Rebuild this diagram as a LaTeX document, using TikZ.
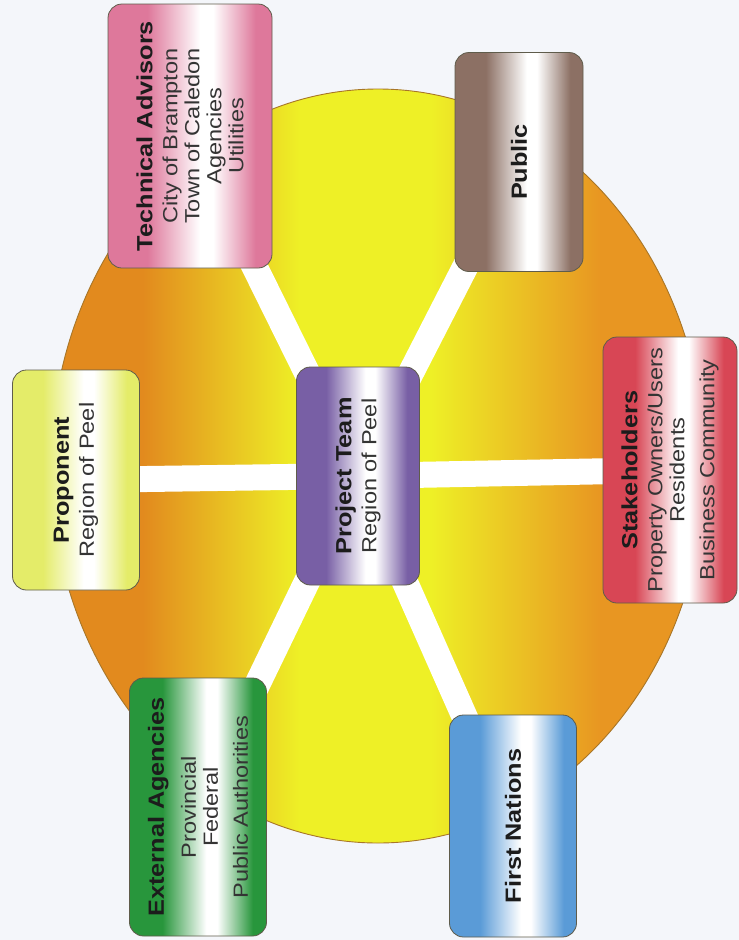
\documentclass[tikz,border=0pt]{standalone}
\usepackage{fontspec}
\setmainfont{Liberation Sans}[FakeStretch=1.15]
\usetikzlibrary{backgrounds}
\definecolor{bgColor}{RGB}{244,246,250}
\definecolor{sunOrange}{RGB}{226,138,30}
\definecolor{sunOrangeR}{RGB}{232,150,34}
\definecolor{sunYellow}{RGB}{238,240,38}
\definecolor{rimColor}{RGB}{168,118,40}
\definecolor{edgeColor}{RGB}{95,92,75}
\definecolor{headColor}{RGB}{28,28,28}
\definecolor{subColor}{RGB}{52,52,52}
\definecolor{advisorColor}{RGB}{222,120,155}
\definecolor{publicColor}{RGB}{140,112,100}
\definecolor{stakeColor}{RGB}{216,70,85}
\definecolor{proponentColor}{RGB}{228,236,105}
\definecolor{teamColor}{RGB}{120,95,165}
\definecolor{agencyColor}{RGB}{40,150,60}
\definecolor{nationsColor}{RGB}{90,155,215}
\colorlet{cardtint}{white}
% the path box takes the band from 25bp to 75bp
\pgfdeclarehorizontalshading{sunband}{100bp}{color(0bp)=(sunOrange); color(32bp)=(sunOrange); color(44bp)=(sunYellow); color(54bp)=(sunYellow); color(67bp)=(sunOrangeR); color(100bp)=(sunOrangeR)}
\pgfdeclareverticalshading[cardtint]{cardband}{100bp}{color(0bp)=(cardtint); color(30bp)=(cardtint); color(43bp)=(white); color(47bp)=(white); color(63bp)=(cardtint); color(100bp)=(cardtint)}
\newcommand{\cardhead}[1]{{\color{headColor}\bfseries\fontsize{22}{26}\selectfont #1}}

\begin{document}
\begin{tikzpicture}[x=1pt,y=-1pt]
  	\tikzstyle{card} = [rectangle,rounded corners=14pt,draw=edgeColor,line width=0.8pt,rotate=90,align=center,inner sep=2pt,text=subColor,font=\fontsize{20.5}{22}\selectfont,/utils/exec={\colorlet{cardtint}{#1}},shade,shading=cardband,shading angle=90]
  	\tikzstyle{spoke} = [white,line width=26pt]
  	\useasboundingbox (0,0) rectangle (739,940);

	  \node [card=teamColor, minimum width=218pt, minimum height=123pt] (team) at (358,476) {\cardhead{Project Team}\\[3pt] Region of Peel};
	  \node [card=proponentColor, minimum width=220pt, minimum height=127pt] (prop) at (76,480) {\cardhead{Proponent}\\[3pt] Region of Peel};
	  \node [card=advisorColor, minimum width=264pt, minimum height=164pt] (tech) at (190,136) {\cardhead{Technical Advisors}\\[3pt] City of Brampton\\ Town of Caledon\\ Agencies\\ Utilities};
	  \node [card=publicColor, minimum width=219pt, minimum height=128pt] (pub) at (519,162) {\cardhead{Public}};
	  \node [card=stakeColor, minimum width=266pt, minimum height=134pt] (stake) at (670,470) {\cardhead{Stakeholders}\\[3pt] Property Owners/Users\\ Residents\\[8pt] Business Community};
	  \node [card=agencyColor, minimum width=258pt, minimum height=137pt] (ext) at (198,807) {\cardhead{External Agencies}\\[10pt] Provincial\\ Federal\\[8pt] Public Authorities};
	  \node [card=nationsColor, minimum width=222pt, minimum height=127pt] (nations) at (513,826) {\cardhead{First Nations}};
	  \coordinate (sun) at (378,466);

    \begin{scope}[on background layer]
      \fill [bgColor] (0,0) rectangle (739,940);
      \shadedraw [shading=sunband,draw=rimColor,line width=0.9pt] (sun) ellipse [x radius=327, y radius=377];
      \draw [spoke] (team.center) -- (prop.center);
      \draw [spoke] (team.center) -- (stake.center);
      \draw [spoke] (team.center) -- (tech.center);
      \draw [spoke] (team.center) -- (pub.center);
      \draw [spoke] (team.center) -- (ext.center);
      \draw [spoke] (team.center) -- (nations.center);
    \end{scope}
  \end{tikzpicture}
\end{document}
